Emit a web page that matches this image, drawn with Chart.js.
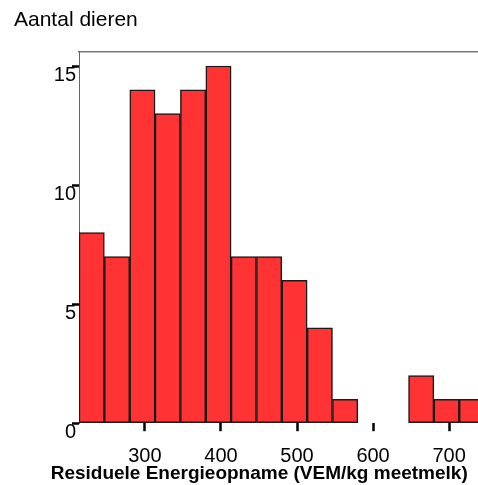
<!DOCTYPE html>
<html>
<head>
<meta charset="utf-8">
<script src="https://cdn.jsdelivr.net/npm/chart.js@4"></script>
<style>
  html, body { margin: 0; padding: 0; background: #fff; }
</style>
</head>
<body>
<canvas id="chart" width="478" height="485"></canvas>
<script>
// bin centres (VEM/kg meetmelk), bins are 33.3 wide
const binCenters = [230, 263.3, 296.7, 330, 363.3, 396.7, 430, 463.3,
  496.7, 530, 563.3, 596.7, 630, 663.3, 696.7, 730];
const counts = [8, 7, 14, 13, 14, 15, 7, 7, 6, 4, 1, 0, 0, 2, 1, 1];
const xTicks = [300, 400, 500, 600, 700];
const yTicks = [0, 5, 10, 15];

const font = 'Arial, "Liberation Sans", sans-serif';

const data = {
  datasets: [{
    label: 'Aantal dieren',
    data: binCenters.map((x, i) => ({ x: x, y: counts[i] })),
    backgroundColor: '#FF3333',
    borderColor: '#1a1a1a',
    borderWidth: 1.5,
    borderSkipped: false,
    barPercentage: 1,
    categoryPercentage: 1
  }]
};

const options = {
  responsive: false,
  animation: false,
  layout: { padding: { left: 14, right: 0, top: 0, bottom: 0 } },
  plugins: {
    legend: { display: false },
    tooltip: { enabled: false },
    title: {
      display: true,
      text: 'Aantal dieren',
      align: 'start',
      color: '#000',
      font: { family: font, size: 21, weight: 'normal' },
      padding: { top: 8, bottom: 19 }
    },
    // x axis title, sits a bit left of the plot centre like the original
    subtitle: {
      display: true,
      position: 'bottom',
      text: '     Residuele Energieopname (VEM/kg meetmelk)',
      color: '#000',
      font: { family: font, size: 19, weight: 'bold' },
      padding: { top: 0, bottom: 0 }
    }
  },
  scales: {
    x: {
      type: 'linear',
      position: 'bottom',
      offset: false,
      min: 213.3,
      max: 738,
      afterBuildTicks: (scale) => {
        scale.ticks = xTicks.map(v => ({ value: v }));
      },
      afterFit: (scale) => { scale.height = 39; },
      ticks: {
        color: '#000',
        font: { family: font, size: 20, lineHeight: 2.2 },
        padding: 3,
        maxRotation: 0
      },
      grid: {
        display: true,
        offset: false,
        drawOnChartArea: false,
        drawTicks: true,
        tickLength: 8,
        tickWidth: 2.5,
        tickColor: '#000'
      },
      border: { display: false }
    },
    xTop: {
      type: 'linear',
      position: 'top',
      min: 213.3,
      max: 738,
      afterFit: (scale) => { scale.height = 0; },
      ticks: { display: false },
      grid: { display: false, drawTicks: false },
      border: { display: true, color: '#777', width: 1.5 }
    },
    y: {
      min: 0,
      max: 15.58,
      afterBuildTicks: (scale) => {
        scale.ticks = yTicks.map(v => ({ value: v }));
      },
      afterFit: (scale) => { scale.width = 65; },
      ticks: {
        color: '#000',
        font: { family: font, size: 20 },
        padding: -4,
        labelOffset: 9
      },
      grid: {
        display: true,
        drawOnChartArea: false,
        drawTicks: true,
        tickLength: 7,
        tickWidth: 2.5,
        tickColor: '#000'
      },
      border: { display: true, color: '#666', width: 1 }
    }
  }
};

new Chart(document.getElementById('chart'), {
  type: 'bar',
  data: data,
  options: options
});
</script>
</body>
</html>
